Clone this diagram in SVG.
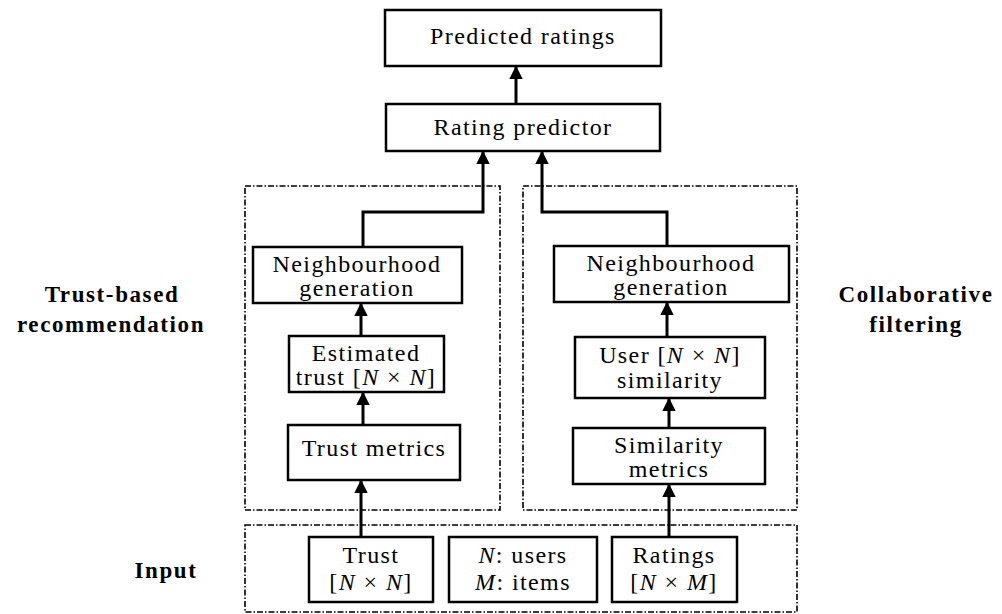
<svg xmlns="http://www.w3.org/2000/svg" width="1002" height="614" viewBox="0 0 1002 614">
  <style>
    .box { fill: #fff; stroke: #000; stroke-width: 2.5; }
    .grp { fill: none; stroke: #000; stroke-width: 1.6; stroke-dasharray: 6 2 1.5 2; }
    .t { font-family: "Liberation Serif", "DejaVu Serif", serif; font-size: 24px; fill: #000; text-anchor: middle; letter-spacing: 1.4px; }
    .lbl { font-family: "Liberation Serif", "DejaVu Serif", serif; font-size: 23px; font-weight: bold; fill: #000; text-anchor: middle; letter-spacing: 1.6px; }
    .wire { fill: none; stroke: #000; stroke-width: 3; marker-end: url(#ah); }
  </style>
  <defs>
    <marker id="ah" viewBox="0 0 10 10" refX="9" refY="5" markerWidth="4.5" markerHeight="5" orient="auto" markerUnits="strokeWidth">
      <path d="M0,0 L10,5 L0,10 z" fill="#000"/>
    </marker>
  </defs>
  <rect width="1002" height="614" fill="#fff"/>

  <!-- section frames -->
  <g id="frames">
    <rect class="grp" x="245" y="186" width="255" height="324"/>
    <rect class="grp" x="523" y="186" width="274" height="324"/>
    <rect class="grp" x="245" y="525" width="552" height="87"/>
  </g>

  <!-- side labels -->
  <g id="labels">
    <text class="lbl" x="112" y="302">Trust-based</text>
    <text class="lbl" x="111" y="332">recommendation</text>
    <text class="lbl" x="916" y="302">Collaborative</text>
    <text class="lbl" x="916" y="332">filtering</text>
    <text class="lbl" x="166" y="578">Input</text>
  </g>

  <!-- connectors -->
  <g id="connectors">
    <path class="wire" d="M516,104 L516,67"/>
    <path class="wire" d="M363,247 L363,212 L483,212 L483,152"/>
    <path class="wire" d="M667,246 L667,212 L542,212 L542,152"/>
    <path class="wire" d="M361,336 L361,304"/>
    <path class="wire" d="M363,425 L363,393"/>
    <path class="wire" d="M667,337 L667,303"/>
    <path class="wire" d="M669,428 L669,399"/>
    <path class="wire" d="M361,537 L361,481"/>
    <path class="wire" d="M669,537 L669,485"/>
  </g>

  <g id="predicted-ratings">
    <rect class="box" x="385" y="10" width="276" height="56"/>
    <text class="t" x="523" y="44">Predicted ratings</text>
  </g>
  <g id="rating-predictor">
    <rect class="box" x="386" y="104" width="274" height="47"/>
    <text class="t" x="523" y="135">Rating predictor</text>
  </g>

  <g id="trust-neighbourhood">
    <rect class="box" x="253" y="247" width="209" height="56"/>
    <text class="t" x="357" y="272">Neighbourhood</text>
    <text class="t" x="357" y="296">generation</text>
  </g>
  <g id="estimated-trust">
    <rect class="box" x="289" y="336" width="155" height="56"/>
    <text class="t" x="366" y="361">Estimated</text>
    <text class="t" x="366" y="385">trust [<tspan font-style="italic">N</tspan> × <tspan font-style="italic">N</tspan>]</text>
  </g>
  <g id="trust-metrics">
    <rect class="box" x="288" y="425" width="172" height="55"/>
    <text class="t" x="374" y="456">Trust metrics</text>
  </g>

  <g id="cf-neighbourhood">
    <rect class="box" x="554" y="246" width="235" height="56"/>
    <text class="t" x="671" y="271">Neighbourhood</text>
    <text class="t" x="671" y="295">generation</text>
  </g>
  <g id="user-similarity">
    <rect class="box" x="575" y="337" width="190" height="61"/>
    <text class="t" x="670" y="363">User [<tspan font-style="italic">N</tspan> × <tspan font-style="italic">N</tspan>]</text>
    <text class="t" x="670" y="388">similarity</text>
  </g>
  <g id="similarity-metrics">
    <rect class="box" x="573" y="428" width="192" height="56"/>
    <text class="t" x="669" y="453">Similarity</text>
    <text class="t" x="669" y="477">metrics</text>
  </g>

  <g id="input-trust">
    <rect class="box" x="309" y="537" width="124" height="65"/>
    <text class="t" x="371" y="563">Trust</text>
    <text class="t" x="371" y="590">[<tspan font-style="italic">N</tspan> × <tspan font-style="italic">N</tspan>]</text>
  </g>
  <g id="input-legend">
    <rect class="box" x="449" y="537" width="148" height="65"/>
    <text class="t" x="523" y="563"><tspan font-style="italic">N</tspan>: users</text>
    <text class="t" x="523" y="590"><tspan font-style="italic">M</tspan>: items</text>
  </g>
  <g id="input-ratings">
    <rect class="box" x="612" y="537" width="125" height="65"/>
    <text class="t" x="674" y="563">Ratings</text>
    <text class="t" x="674" y="590">[<tspan font-style="italic">N</tspan> × <tspan font-style="italic">M</tspan>]</text>
  </g>
</svg>
